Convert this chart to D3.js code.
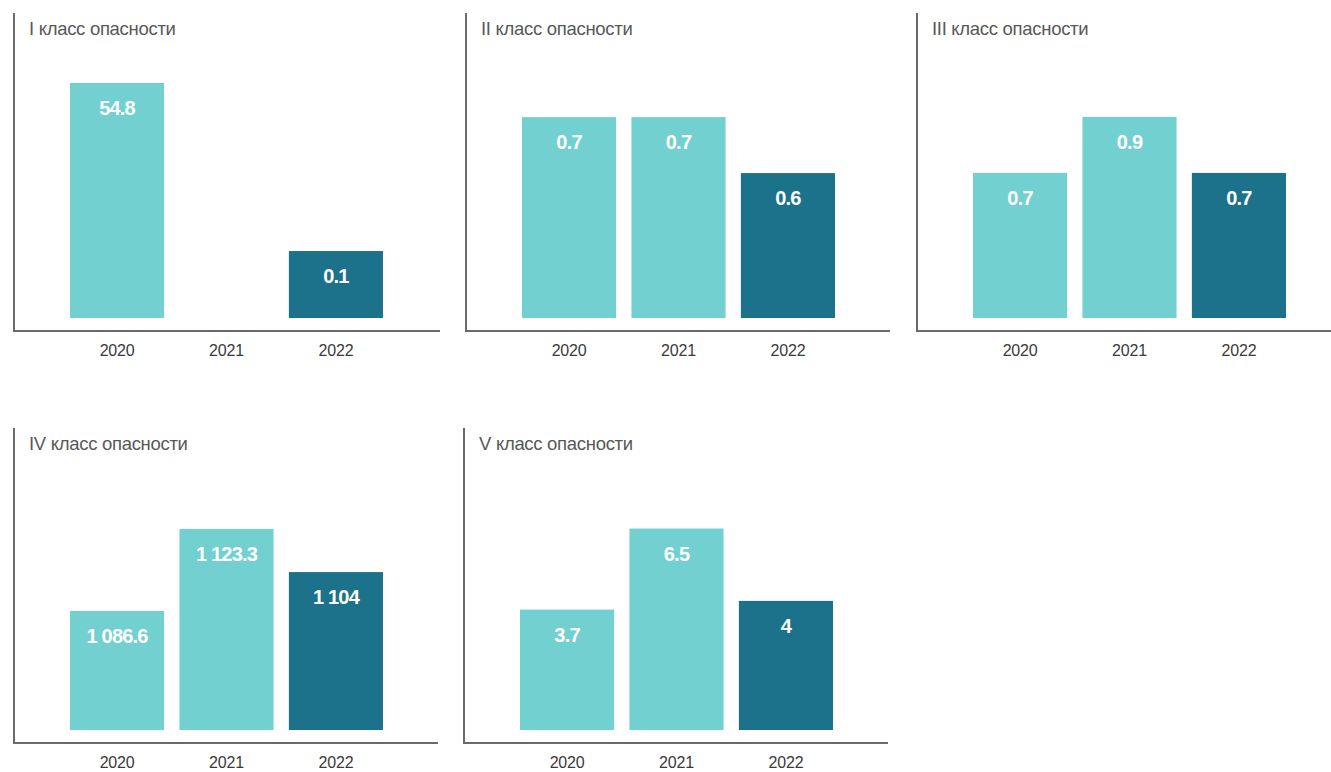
<!DOCTYPE html>
<html>
<head>
<meta charset="utf-8">
<script src="https://cdn.jsdelivr.net/npm/d3@7"></script>
<style>
  html, body { margin: 0; padding: 0; background: #ffffff; }
  svg { display: block; }
</style>
</head>
<body>
<svg id="chart" width="1331" height="772"></svg>
<script>
// ---- data ----
const years = ["2020", "2021", "2022"];
const titles = ["I класс опасности", "II класс опасности", "III класс опасности", "IV класс опасности", "V класс опасности"];
const class1 = [54.8, null, 0.1];
const class2 = [0.7, 0.7, 0.6];
const class3 = [0.7, 0.9, 0.7];
const class4 = [1086.6, 1123.3, 1104];
const class5 = [3.7, 6.5, 4];
const seriesValues = [class1, class2, class3, class4, class5];
// value axis domains of each panel (the original uses a truncated scale)
const domainMin = [-21.7, 0.341, 0.182, 1033.3, -0.459];
const domainMax = [54.8, 0.761, 1.021, 1138.5, 7.658];

// ---- layout ----
const panels = [
  { x: 14,  top: 13,  axisY: 331, end: 440 },
  { x: 466, top: 13,  axisY: 331, end: 890 },
  { x: 917, top: 13,  axisY: 331, end: 1331 },
  { x: 14,  top: 428, axisY: 743, end: 438 },
  { x: 464, top: 428, axisY: 743, end: 888 }
];
const colLight = "#72d0d0";
const colDark = "#1b728a";
const axisColor = "#6a6a6a";

const locale = d3.formatLocale({ decimal: ".", thousands: " ", grouping: [3], currency: ["", ""] });
const fmt = locale.format(",.1~f");

const svg = d3.select("#chart");

panels.forEach((p, i) => {
  const g = svg.append("g");
  const base = p.axisY - 13;
  const x = d3.scaleBand().domain(years).range([p.x + 56, p.x + 369]).paddingInner(0.14).paddingOuter(0);
  const y = d3.scaleLinear().domain([domainMin[i], domainMax[i]]).range([base, base - 235]);

  // axis lines
  g.append("line").attr("x1", p.x).attr("x2", p.x).attr("y1", p.top).attr("y2", p.axisY + 1)
    .attr("stroke", axisColor).attr("stroke-width", 2);
  g.append("line").attr("x1", p.x - 1).attr("x2", p.end).attr("y1", p.axisY).attr("y2", p.axisY)
    .attr("stroke", axisColor).attr("stroke-width", 2);

  // title
  g.append("text").attr("x", p.x + 15).attr("y", p.top + 22)
    .attr("font-family", "Liberation Sans, Arial, sans-serif").attr("font-size", 18.5)
    .attr("letter-spacing", -0.3)
    .attr("fill", "#585858").text(titles[i]);

  const data = years.map((yr, j) => ({ year: yr, value: seriesValues[i][j], idx: j }))
    .filter(d => d.value !== null);

  g.selectAll("rect.bar").data(data).enter().append("rect")
    .attr("class", "bar")
    .attr("x", d => x(d.year))
    .attr("width", x.bandwidth())
    .attr("y", d => y(d.value))
    .attr("height", d => base - y(d.value))
    .attr("fill", d => d.idx === 2 ? colDark : colLight);

  g.selectAll("text.val").data(data).enter().append("text")
    .attr("class", "val")
    .attr("x", d => x(d.year) + x.bandwidth() / 2)
    .attr("y", d => y(d.value) + 32)
    .attr("text-anchor", "middle")
    .attr("font-family", "Liberation Sans, Arial, sans-serif")
    .attr("font-weight", "bold").attr("font-size", 20)
    .attr("letter-spacing", -0.8)
    .attr("fill", "#ffffff")
    .text(d => fmt(d.value));

  // year labels via axis
  const ax = g.append("g").attr("transform", `translate(0,${p.axisY})`)
    .call(d3.axisBottom(x).tickSize(0).tickPadding(14));
  ax.select(".domain").remove();
  ax.selectAll("text")
    .attr("font-family", "Liberation Sans, Arial, sans-serif")
    .attr("font-size", 16)
    .attr("letter-spacing", -0.2)
    .attr("fill", "#3a3a3a");
});
</script>
</body>
</html>
